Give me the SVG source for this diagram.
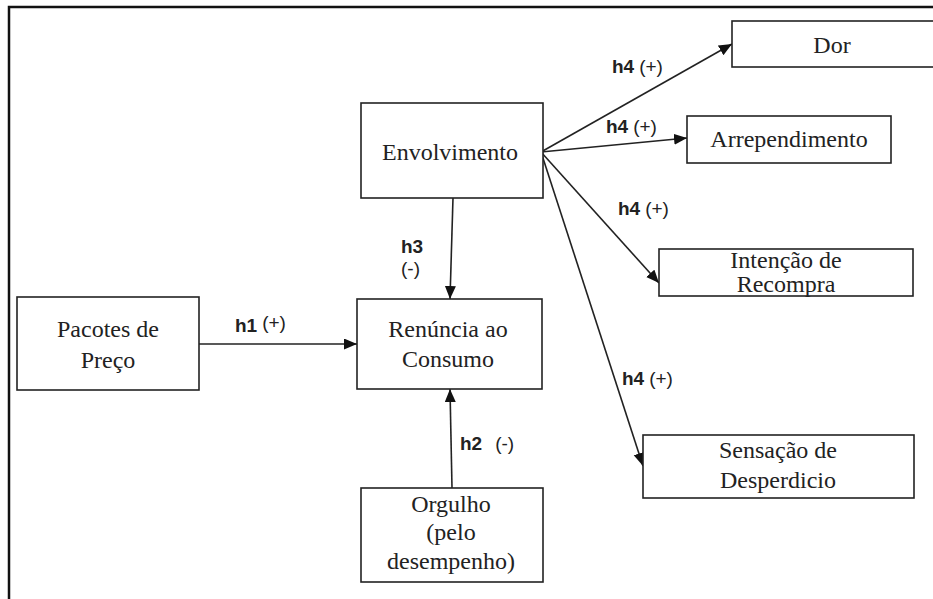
<svg xmlns="http://www.w3.org/2000/svg" width="933" height="599" viewBox="0 0 933 599">
<style>
.box{fill:#fff;stroke:#222;stroke-width:1.6}
.t{font-family:"Liberation Serif","Times New Roman",serif;font-size:24px;fill:#222;text-anchor:middle}
.lbl{font-family:"Liberation Sans",Arial,sans-serif;font-size:19px;fill:#222}
.b{font-weight:bold}
.c{stroke:#222;stroke-width:1.6;fill:none;marker-end:url(#ah)}
</style>
<defs>
<marker id="ah" markerUnits="userSpaceOnUse" markerWidth="14" markerHeight="12" refX="13" refY="5.5" orient="auto">
<path d="M0,0 L13,5.5 L0,11 z" fill="#111"/>
</marker>
</defs>
<rect x="0" y="0" width="933" height="599" fill="#fff"/>
<path d="M9,599 L9,7 L933,7" fill="none" stroke="#111" stroke-width="2.5"/>
<g id="connectors">
<path class="c" d="M199,344 L357,344"/>
<path class="c" d="M453,198 L450,299"/>
<path class="c" d="M452,488 L450,389"/>
<path class="c" d="M541,152 L732,44"/>
<path class="c" d="M541,152 L687,138"/>
<path class="c" d="M541,152 L659,283"/>
<path class="c" d="M541,152 L643,466"/>
<text class="lbl" x="235" y="332"><tspan class="b">h1</tspan><tspan dx="5" dy="-3">(+)</tspan></text>
<text class="lbl" x="401" y="253"><tspan class="b">h3</tspan></text>
<text class="lbl" x="401" y="275">(-)</text>
<text class="lbl" x="460" y="450"><tspan class="b">h2</tspan><tspan dx="13">(-)</tspan></text>
<text class="lbl" x="612" y="73"><tspan class="b">h4</tspan><tspan dx="5">(+)</tspan></text>
<text class="lbl" x="606" y="133"><tspan class="b">h4</tspan><tspan dx="5">(+)</tspan></text>
<text class="lbl" x="618" y="215"><tspan class="b">h4</tspan><tspan dx="5">(+)</tspan></text>
<text class="lbl" x="622" y="385"><tspan class="b">h4</tspan><tspan dx="5">(+)</tspan></text>
</g>
<g id="pacotes">
<rect class="box" x="17" y="297" width="182" height="93"/>
<text class="t" x="108" y="337">Pacotes de</text>
<text class="t" x="108" y="368">Preço</text>
</g>
<g id="envolvimento">
<rect class="box" x="361" y="103" width="182" height="95"/>
<text class="t" x="450" y="160">Envolvimento</text>
</g>
<g id="renuncia">
<rect class="box" x="357" y="299" width="185" height="90"/>
<text class="t" x="448" y="337">Renúncia ao</text>
<text class="t" x="448" y="367">Consumo</text>
</g>
<g id="orgulho">
<rect class="box" x="361" y="488" width="182" height="94"/>
<text class="t" x="451" y="512">Orgulho</text>
<text class="t" x="451" y="540">(pelo</text>
<text class="t" x="451" y="569">desempenho)</text>
</g>
<g id="dor">
<rect class="box" x="732" y="21" width="202" height="46"/>
<text class="t" x="832" y="53">Dor</text>
</g>
<g id="arrependimento">
<rect class="box" x="687" y="116" width="204" height="47"/>
<text class="t" x="789" y="147">Arrependimento</text>
</g>
<g id="intencao">
<rect class="box" x="659" y="249" width="254" height="47"/>
<text class="t" x="786" y="268">Intenção de</text>
<text class="t" x="786" y="292">Recompra</text>
</g>
<g id="sensacao">
<rect class="box" x="643" y="435" width="271" height="63"/>
<text class="t" x="778" y="458">Sensação de</text>
<text class="t" x="778" y="488">Desperdicio</text>
</g>
</svg>
